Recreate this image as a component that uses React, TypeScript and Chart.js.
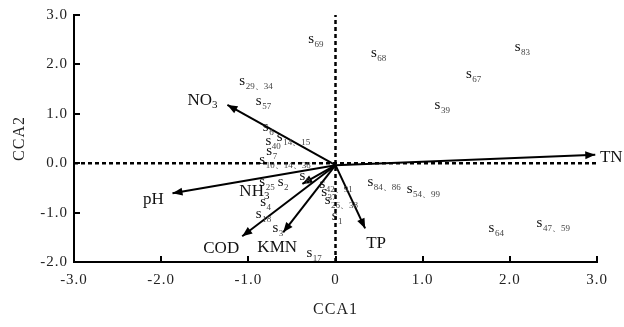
import React, { useEffect, useRef } from 'react';
import { Chart, registerables } from 'chart.js';
Chart.register(...registerables);

const FONT = "'Liberation Serif', 'DejaVu Serif', serif";

const X_TICKS = [-3, -2, -1, 0, 1, 2, 3];
const X_TICK_LABELS = ['-3.0', '-2.0', '-1.0', '0', '1.0', '2.0', '3.0'];
const Y_TICKS = [-2, -1, 0, 1, 2, 3];
const Y_TICK_LABELS = ['-2.0', '-1.0', '0.0', '1.0', '2.0', '3.0'];
const X_TITLE = 'CCA1';
const Y_TITLE = 'CCA2';

const ORIGIN_X = 0;
const ORIGIN_Y = -0.04;

const VAR_NAMES = ['TN', 'NO3', 'pH', 'NH3', 'COD', 'KMN', 'TP'];
const VAR_X = [2.98, -1.24, -1.87, -0.38, -1.07, -0.6, 0.34];
const VAR_Y = [0.17, 1.18, -0.61, -0.42, -1.48, -1.4, -1.32];

// label placement relative to arrow tips (pixels)
const VAR_LABEL_DX = [16, -25, -19, -48, -21, -6, 11];
const VAR_LABEL_DY = [1.5, -6, 4.5, 6, 11, 14, 14];

const SAMPLE_NAMES = [
  '69', '68', '83', '67', '39', '29、34', '57', '6', '14、15', '40', '7', '10、14、38',
  '25', '2', '8', '42、91', '37', '26、38', '1', '4', '18', '3', '17',
  '84、86', '54、99', '64', '47、59',
];
const SAMPLE_X = [
  -0.28, 0.44, 2.09, 1.53, 1.17, -1.07, -0.88, -0.8, -0.64, -0.77, -0.76, -0.84,
  -0.84, -0.63, -0.38, -0.15, -0.13, -0.09, -0.01, -0.83, -0.88, -0.69, -0.3,
  0.4, 0.85, 1.79, 2.34,
];
const SAMPLE_Y = [
  2.5, 2.22, 2.34, 1.78, 1.16, 1.64, 1.24, 0.72, 0.52, 0.42, 0.22, 0.04,
  -0.4, -0.4, -0.28, -0.44, -0.6, -0.76, -1.08, -0.8, -1.04, -1.34, -1.84,
  -0.4, -0.54, -1.34, -1.24,
];

const N_GUIDES = 2;

const biplotPlugin = {
  id: 'biplot',
  beforeDraw(chart: any) {
    chart.ctx.letterSpacing = '1px';
  },
  beforeDatasetsDraw(chart: any) {
    chart.ctx.letterSpacing = '0px';
  },
  afterDatasetsDraw(chart: any) {
    const ctx = chart.ctx;
    const xs = chart.scales.x;
    const ys = chart.scales.y;
    const area = chart.chartArea;
    ctx.save();
    ctx.letterSpacing = '0px';
    // inward tick marks
    ctx.strokeStyle = '#000';
    ctx.lineWidth = 2;
    xs.ticks.forEach((t: any) => {
      const px = Math.round(xs.getPixelForValue(t.value));
      ctx.beginPath();
      ctx.moveTo(px, area.bottom);
      ctx.lineTo(px, area.bottom - 6);
      ctx.stroke();
    });
    ys.ticks.forEach((t: any) => {
      const py = Math.round(ys.getPixelForValue(t.value));
      ctx.beginPath();
      ctx.moveTo(area.left, py);
      ctx.lineTo(area.left + 6, py);
      ctx.stroke();
    });

    // arrowheads and variable labels
    ctx.fillStyle = '#000';
    VAR_NAMES.forEach((name, i) => {
      const meta = chart.getDatasetMeta(N_GUIDES + i);
      const p0 = meta.data[0];
      const p1 = meta.data[1];
      const ang = Math.atan2(p1.y - p0.y, p1.x - p0.x);
      const L = 10;
      const W = 4;
      ctx.beginPath();
      ctx.moveTo(p1.x, p1.y);
      ctx.lineTo(p1.x - L * Math.cos(ang) + W * Math.sin(ang), p1.y - L * Math.sin(ang) - W * Math.cos(ang));
      ctx.lineTo(p1.x - L * Math.cos(ang) - W * Math.sin(ang), p1.y - L * Math.sin(ang) + W * Math.cos(ang));
      ctx.closePath();
      ctx.fill();

      const m = name.match(/^(.*?)(\d+)$/);
      const main = m ? m[1] : name;
      const sub = m ? m[2] : '';
      ctx.font = `17px ${FONT}`;
      const wMain = ctx.measureText(main).width;
      ctx.font = `11px ${FONT}`;
      const wSub = sub ? ctx.measureText(sub).width : 0;
      const cx = p1.x + VAR_LABEL_DX[i];
      const cy = p1.y + VAR_LABEL_DY[i];
      const left = cx - (wMain + wSub) / 2;
      ctx.fillStyle = '#111';
      ctx.textAlign = 'left';
      ctx.textBaseline = 'alphabetic';
      ctx.font = `17px ${FONT}`;
      ctx.fillText(main, left, cy + 6);
      if (sub) {
        ctx.font = `11px ${FONT}`;
        ctx.fillText(sub, left + wMain, cy + 9);
      }
      ctx.fillStyle = '#000';
    });

    // sample labels
    const smeta = chart.getDatasetMeta(N_GUIDES + VAR_NAMES.length);
    SAMPLE_NAMES.forEach((name, i) => {
      const p = smeta.data[i];
      ctx.font = `15px ${FONT}`;
      ctx.fillStyle = '#111';
      ctx.textAlign = 'center';
      ctx.textBaseline = 'alphabetic';
      const sw = ctx.measureText('s').width;
      ctx.fillText('s', p.x, p.y + 3);
      ctx.font = `9px ${FONT}`;
      ctx.fillStyle = '#444';
      ctx.textAlign = 'left';
      ctx.fillText(name, p.x + sw / 2 + 0.5, p.y + 7);
    });
    ctx.restore();
  },
};

export default function App() {
  const ref = useRef<HTMLCanvasElement | null>(null);
  useEffect(() => {
    document.body.style.margin = '0';
    const canvas = ref.current;
    if (!canvas) return;
    const guideStyle = {
      type: 'line' as const,
      borderColor: '#000',
      borderWidth: 2.5,
      borderDash: [4, 3],
      pointRadius: 0,
      fill: false,
    };
    const datasets: any[] = [
      { ...guideStyle, data: [{ x: X_TICKS[0], y: 0 }, { x: X_TICKS[X_TICKS.length - 1], y: 0 }] },
      { ...guideStyle, data: [{ x: 0, y: Y_TICKS[0] }, { x: 0, y: Y_TICKS[Y_TICKS.length - 1] }] },
    ];
    VAR_NAMES.forEach((n, i) => {
      datasets.push({
        type: 'line',
        label: n,
        data: [{ x: ORIGIN_X, y: ORIGIN_Y }, { x: VAR_X[i], y: VAR_Y[i] }],
        borderColor: '#000',
        borderWidth: 2,
        pointRadius: 0,
        fill: false,
        clip: false,
      });
    });
    datasets.push({
      type: 'scatter',
      label: 'samples',
      data: SAMPLE_X.map((x, i) => ({ x, y: SAMPLE_Y[i] })),
      pointRadius: 0,
      clip: false,
    });

    const chart = new Chart(canvas, {
      type: 'scatter',
      data: { datasets },
      options: {
        animation: false,
        responsive: false,
        events: [],
        layout: { padding: { top: 12, right: 27, left: 0, bottom: 0 } },
        plugins: { legend: { display: false }, tooltip: { enabled: false } },
        scales: {
          x: {
            type: 'linear',
            position: 'bottom',
            min: X_TICKS[0],
            max: X_TICKS[X_TICKS.length - 1],
            afterFit: (s: any) => { s.height = 65; },
            afterBuildTicks: (s: any) => { s.ticks = X_TICKS.map((v) => ({ value: v })); },
            grid: { display: false, drawTicks: false },
            border: { display: true, color: '#000', width: 2 },
            ticks: {
              color: '#222',
              font: { family: FONT, size: 15 },
              padding: 9,
              maxRotation: 0,
              callback: (v: any) => X_TICK_LABELS[X_TICKS.indexOf(Number(v))] ?? '',
            },
            title: {
              display: true,
              text: X_TITLE,
              color: '#222',
              font: { family: FONT, size: 16 },
              padding: { top: 0, bottom: 8 },
            },
          },
          y: {
            type: 'linear',
            position: 'left',
            min: Y_TICKS[0],
            max: Y_TICKS[Y_TICKS.length - 1],
            afterFit: (s: any) => { s.width = 74; },
            afterBuildTicks: (s: any) => { s.ticks = Y_TICKS.map((v) => ({ value: v })); },
            grid: { display: false, drawTicks: false },
            border: { display: true, color: '#000', width: 2 },
            ticks: {
              color: '#222',
              font: { family: FONT, size: 15 },
              padding: 6,
              callback: (v: any) => Y_TICK_LABELS[Y_TICKS.indexOf(Number(v))] ?? '',
            },
            title: {
              display: true,
              text: Y_TITLE,
              color: '#222',
              font: { family: FONT, size: 16 },
              padding: { top: 10, bottom: 0 },
            },
          },
        },
      },
      plugins: [biplotPlugin],
    } as any);
    return () => chart.destroy();
  }, []);
  return (
    <div style={{ position: 'absolute', left: 0, top: 0, width: 624, height: 327 }}>
      <canvas ref={ref} width={624} height={327} style={{ display: 'block' }} />
    </div>
  );
}
